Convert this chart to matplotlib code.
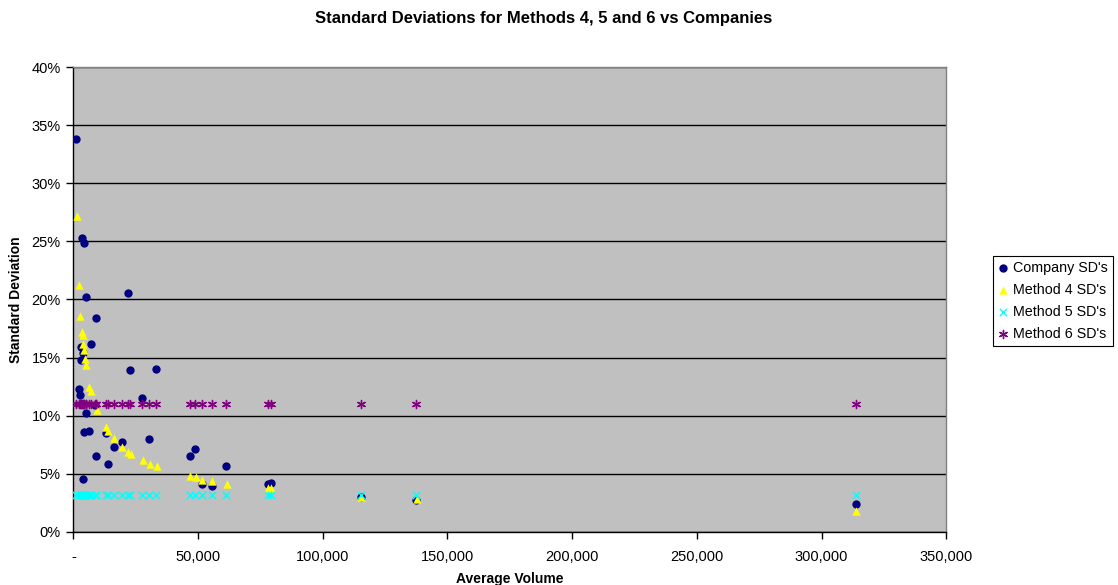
import matplotlib
matplotlib.use("Agg")
import matplotlib.pyplot as plt
from matplotlib.ticker import FuncFormatter, MultipleLocator

plt.rcParams['font.family'] = ['Liberation Sans', 'DejaVu Sans']

# Company standard deviations (average volume, SD in %)
company_vol = [1100, 3400, 4400, 5000, 21900, 9200, 7000, 3000, 3800, 3000,
               22900, 33300, 2200, 2700, 27500, 8800, 5100, 4400, 6200, 13000,
               19500, 16300, 30400, 9200, 14000, 3900, 48900, 46700, 61200,
               51500, 55700, 77900, 79300, 115200, 137400, 314000]
company_sd = [33.8, 25.3, 24.9, 20.2, 20.6, 18.4, 16.2, 15.9, 15.4, 14.8,
              13.9, 14.0, 12.3, 11.8, 11.5, 10.9, 10.2, 8.6, 8.67, 8.5,
              7.7, 7.3, 7.95, 6.5, 5.85, 4.55, 7.1, 6.5, 5.7,
              4.1, 3.95, 4.1, 4.2, 2.96, 2.73, 2.39]

# Method 4 standard deviations
m4_vol = [1400, 2300, 2800, 3600, 3800, 3800, 4300, 4600, 5100, 6400, 7100,
          9500, 13100, 14000, 16400, 19600, 21900, 23000, 27800, 30600, 33600,
          46700, 49100, 51500, 55700, 61500, 77900, 79300, 115500, 137700,
          314000]
m4_sd = [27.2, 21.25, 18.6, 17.2, 16.9, 16.2, 15.65, 14.85, 14.35, 12.45,
         12.15, 10.45, 9.05, 8.7, 8.05, 7.3, 6.9, 6.7, 6.2, 5.85, 5.65,
         4.77, 4.69, 4.48, 4.4, 4.1, 3.74, 3.74, 3.0, 2.8, 1.76]

# Method 5 and 6 standard deviations (constant across companies)
m5_sd = [3.12] * len(company_vol)
m6_sd = [11.02] * len(company_vol)

fig = plt.figure(figsize=(11.18, 5.85), dpi=100)
ax = fig.add_axes([0.0656, 0.0911, 0.7808, 0.7939])
ax.set_facecolor('#C0C0C0')

ax.scatter(company_vol, company_sd, s=36, marker='o', color='#000080',
           label="Company SD's", zorder=3, linewidths=0)
ax.scatter(m4_vol, m4_sd, s=36, marker='^', color='#FFFF00',
           label="Method 4 SD's", zorder=4, linewidths=0)
ax.scatter(company_vol, m5_sd, s=28, marker='x', color='#00FFFF',
           label="Method 5 SD's", zorder=5, linewidths=1)
ax.scatter(company_vol, m6_sd, s=34, marker=(6, 2, 0), color='#800080',
           label="Method 6 SD's", zorder=6, linewidths=1)

ax.set_xlim(0, 350000)
ax.set_ylim(0, 40)
ax.xaxis.set_major_locator(MultipleLocator(50000))
ax.yaxis.set_major_locator(MultipleLocator(5))
ax.xaxis.set_major_formatter(FuncFormatter(lambda v, p: '-' if v == 0 else f'{int(v):,}'))
ax.yaxis.set_major_formatter(FuncFormatter(lambda v, p: f'{int(round(v))}%'))
ax.yaxis.grid(True, color='black', linewidth=1.0, zorder=1)
ax.set_axisbelow(True)
ax.tick_params(axis='both', labelsize=10.5, length=5, width=1, colors='black', pad=4)
ax.tick_params(axis='x', pad=8)

for s in ['left', 'bottom']:
    ax.spines[s].set_color('black')
    ax.spines[s].set_linewidth(1.0)
for s in ['top', 'right']:
    ax.spines[s].set_color('#808080')
    ax.spines[s].set_linewidth(1.0)

ax.set_xlabel('Average Volume', fontsize=10, fontweight='bold', labelpad=6)
ax.set_ylabel('Standard Deviation', fontsize=10, fontweight='bold', labelpad=6)
fig.text(0.486, 0.969, 'Standard Deviations for Methods 4, 5 and 6 vs Companies',
         ha='center', va='center', fontsize=12, fontweight='bold')

leg = fig.legend(loc='center left', bbox_to_anchor=(0.888, 0.4855), fontsize=10.3,
                 frameon=True, fancybox=False, edgecolor='black', framealpha=1,
                 handletextpad=0.35, borderpad=0.35, labelspacing=0.55,
                 handlelength=0.7, markerscale=1.0, borderaxespad=0)
leg.get_frame().set_linewidth(0.8)

fig.savefig('out.png', dpi=100)
